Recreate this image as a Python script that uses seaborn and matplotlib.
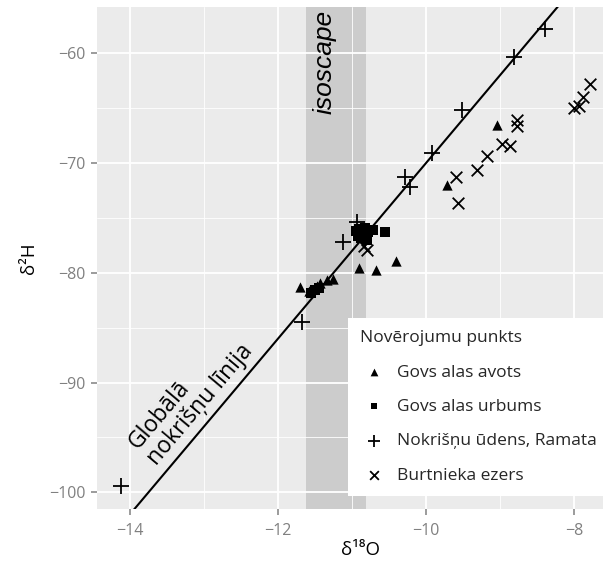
import numpy as np
import pandas as pd
import matplotlib
matplotlib.use("Agg")
import matplotlib.pyplot as plt
import seaborn as sns
import math

# ---- data ----
avots_x = [-9.04, -9.72, -10.91, -10.68, -10.41, -11.70, -11.58, -11.52, -11.47, -11.43, -11.34, -11.25]
avots_y = [-66.5, -72.0, -79.6, -79.7, -78.9, -81.3, -81.7, -81.5, -81.2, -80.9, -80.7, -80.6]

urbums_x = [-11.56, -11.50, -11.45, -10.95, -10.90, -10.86, -10.82, -10.78, -10.72, -10.88, -10.80, -10.55, -10.92]
urbums_y = [-81.8, -81.6, -81.4, -76.2, -76.0, -76.5, -75.9, -76.3, -76.1, -76.8, -77.0, -76.3, -76.6]

nokr_x = [-14.12, -11.67, -11.12, -10.93, -10.28, -10.22, -9.92, -9.51, -8.81, -8.39]
nokr_y = [-99.4, -84.5, -77.2, -75.4, -71.3, -72.2, -69.1, -65.2, -60.3, -57.8]

burt_x = [-9.59, -9.57, -9.31, -9.18, -8.97, -8.86, -8.77, -8.77, -8.0, -7.93, -7.88, -7.78, -10.84, -10.80]
burt_y = [-71.3, -73.6, -70.6, -69.4, -68.3, -68.4, -66.1, -66.6, -65.0, -64.8, -64.0, -62.8, -77.6, -77.9]

series_names = ["Govs alas avots", "Govs alas urbums", "Nokrišņu ūdens, Ramata", "Burtnieka ezers"]
x_ticks = [-14, -12, -10, -8]
y_ticks = [-100, -90, -80, -70, -60]
isoscape_range = [-11.62, -10.81]
gmwl_slope, gmwl_intercept = 8, 10

FONT = ["Open Sans", "Noto Sans", "DejaVu Sans"]

sns.set_theme(style="darkgrid")
plt.rcParams["font.family"] = FONT

W, H = 603, 565
fig = plt.figure(figsize=(W / 100, H / 100), dpi=100)
ax_l, ax_r, ax_t, ax_b = 97, 603, 7, 509
ax = fig.add_axes([ax_l / W, 1 - ax_b / H, (ax_r - ax_l) / W, (ax_b - ax_t) / H])

xlim = (-14.446, -7.608)
ylim = (-101.52, -55.78)
ax.set_xlim(*xlim)
ax.set_ylim(*ylim)

ax.set_facecolor("#EBEBEB")
for s in ax.spines.values():
    s.set_visible(False)
ax.set_xticks(x_ticks)
ax.set_yticks(y_ticks)
ax.set_xticks([-13, -11, -9], minor=True)
ax.set_yticks([-95, -85, -75, -65], minor=True)
ax.grid(which="major", color="white", linewidth=1.3)
ax.grid(which="minor", color="white", linewidth=0.6)
ax.set_axisbelow(True)
ax.tick_params(which="major", length=4, width=1.1, color="#808080", labelcolor="#808080",
               labelsize=11.5, pad=4, bottom=True, left=True)
ax.tick_params(axis="x", which="major", pad=6)
ax.tick_params(which="minor", length=0)
ax.set_xticklabels([f"\u2212{abs(v)}" for v in x_ticks])
ax.set_yticklabels([f"\u2212{abs(v)}" for v in y_ticks])

# isoscape band
ax.axvspan(isoscape_range[0], isoscape_range[1], color="#CCCCCC", zorder=0.5, lw=0)
ax.text(-11.37, -60.8, "isoscape", rotation=90, style="italic", fontsize=19,
        family=["Liberation Sans", "DejaVu Sans"], ha="center", va="center", color="black")

# GMWL line
lx = np.array([xlim[0] - 1, xlim[1] + 1])
sns.lineplot(x=lx, y=gmwl_slope * lx + gmwl_intercept, color="black", linewidth=1.5, ax=ax)

# label along line
ax_w_px = ax_r - ax_l
ax_h_px = ax_b - ax_t
ang = math.degrees(math.atan(gmwl_slope * (ax_h_px / (ylim[1] - ylim[0])) / (ax_w_px / (xlim[1] - xlim[0]))))
ax.text(-13.83, -96.5, "Globālā\nnokrišņu līnija", rotation=ang, rotation_mode="anchor",
        ha="left", va="center", multialignment="left", fontsize=16.5, linespacing=1.05,
        color="black")

# points
df = pd.concat([
    pd.DataFrame({"x": avots_x, "y": avots_y, "g": series_names[0]}),
    pd.DataFrame({"x": urbums_x, "y": urbums_y, "g": series_names[1]}),
    pd.DataFrame({"x": nokr_x, "y": nokr_y, "g": series_names[2]}),
    pd.DataFrame({"x": burt_x, "y": burt_y, "g": series_names[3]}),
])
styles = {
    series_names[0]: dict(marker="^", s=55, edgecolor="black", linewidth=0),
    series_names[1]: dict(marker="s", s=45, edgecolor="black", linewidth=0),
    series_names[2]: dict(marker="+", s=140, linewidth=1.3),
    series_names[3]: dict(marker="x", s=70, linewidth=1.3),
}
for name in series_names:
    sub = df[df["g"] == name]
    sns.scatterplot(data=sub, x="x", y="y", color="black", ax=ax, label=name, zorder=3,
                    **styles[name])

ax.set_xlabel("δ\u00b9\u2078O", fontsize=13.5, color="black", labelpad=2)
ax.xaxis.set_label_coords((361 - ax_l) / ax_w_px, -(550 - ax_b) / ax_h_px)
ax.xaxis.label.set_va("center")
ax.set_ylabel("δ\u00b2H", fontsize=13.5, color="black", labelpad=8)

# legend
handles, labels = ax.get_legend_handles_labels()
h2, l2 = [], []
for h, l in zip(handles, labels):
    if l in series_names and l not in l2:
        h2.append(h)
        l2.append(l)
leg = ax.legend(h2, l2, title="Novērojumu punkts", loc="upper left",
                bbox_to_anchor=(348 / W, 1 - 318 / H), bbox_transform=fig.transFigure,
                frameon=True, fancybox=False, facecolor="white", edgecolor="none",
                framealpha=1, fontsize=12.5, title_fontsize=12.5, borderpad=0.7,
                labelspacing=1.05, handletextpad=0.5, handlelength=1.6, borderaxespad=0,
                markerscale=0.75)
leg._legend_box.align = "left"
leg.get_frame().set_linewidth(0)

fig.savefig("out.png", dpi=100)
